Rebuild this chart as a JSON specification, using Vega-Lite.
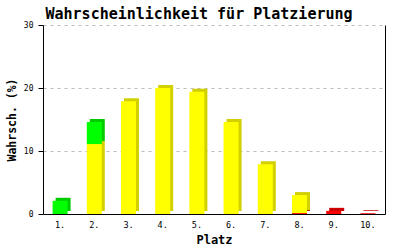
{
  "$schema": "https://vega.github.io/schema/vega-lite/v6.json",
  "width": 342,
  "height": 189,
  "autosize": "none",
  "padding": {"left": 43, "top": 25, "right": 15, "bottom": 36},
  "background": "white",
  "title": {
    "text": "Wahrscheinlichkeit für Platzierung",
    "font": "DejaVu Sans Mono",
    "fontSize": 15,
    "fontWeight": "bold",
    "color": "black",
    "anchor": "middle",
    "dx": -15,
    "offset": -1
  },
  "config": {
    "view": {"stroke": null},
    "axis": {
      "labelFont": "DejaVu Sans Mono",
      "titleFont": "DejaVu Sans Mono",
      "labelColor": "black",
      "titleColor": "black",
      "domainColor": "black",
      "tickColor": "black"
    }
  },
  "data": {
    "values": [
      {"platz": "1.", "farbe": "grün", "stufe": 3, "wert": 2.1},
      {"platz": "2.", "farbe": "gelb", "stufe": 2, "wert": 11.1},
      {"platz": "2.", "farbe": "grün", "stufe": 3, "wert": 3.5},
      {"platz": "3.", "farbe": "gelb", "stufe": 2, "wert": 17.9},
      {"platz": "4.", "farbe": "gelb", "stufe": 2, "wert": 20.0},
      {"platz": "5.", "farbe": "gelb", "stufe": 2, "wert": 19.4},
      {"platz": "6.", "farbe": "gelb", "stufe": 2, "wert": 14.6},
      {"platz": "7.", "farbe": "gelb", "stufe": 2, "wert": 7.9},
      {"platz": "8.", "farbe": "rot", "stufe": 1, "wert": 0.15},
      {"platz": "8.", "farbe": "gelb", "stufe": 2, "wert": 2.85},
      {"platz": "9.", "farbe": "rot", "stufe": 1, "wert": 0.5},
      {"platz": "10.", "farbe": "rot", "stufe": 1, "wert": 0.12}
    ]
  },
  "layer": [
    {
      "mark": {"type": "bar", "width": 15, "xOffset": 3, "yOffset": -3},
      "encoding": {
        "x": {
          "field": "platz", "type": "nominal", "sort": null,
          "axis": {
            "title": "Platz", "titleFontSize": 12, "titleFontWeight": "bold",
            "labelFontSize": 8.5, "labelAngle": 0, "ticks": false,
            "labelPadding": 6, "titlePadding": 6, "domainWidth": 1
          }
        },
        "y": {
          "field": "wert", "type": "quantitative", "stack": true,
          "scale": {"domain": [0, 30]},
          "axis": {
            "title": "Wahrsch. (%)", "titleFontSize": 11.5, "titleFontWeight": "bold",
            "values": [0, 10, 20, 30], "labelFontSize": 8, "tickSize": 5,
            "labelPadding": 5, "titlePadding": 6,
            "grid": true, "gridColor": "#bbbbbb", "gridDash": [3, 4]
          }
        },
        "order": {"field": "stufe"},
        "color": {
          "field": "farbe", "type": "nominal", "legend": null,
          "scale": {"domain": ["rot", "gelb", "grün"], "range": ["#cc0000", "#d2d000", "#00cc00"]}
        }
      }
    },
    {
      "mark": {"type": "rule", "color": "black"},
      "transform": [{"filter": "false"}],
      "encoding": {
        "y": {"field": "wert", "type": "quantitative",
          "axis": {"orient": "right", "labels": false, "ticks": false, "title": null, "grid": false, "domainColor": "black"}}
      }
    },
    {
      "mark": {"type": "bar", "width": 15},
      "encoding": {
        "x": {"field": "platz", "type": "nominal", "sort": null},
        "y": {"field": "wert", "type": "quantitative", "stack": true, "axis": null},
        "order": {"field": "stufe"},
        "color": {
          "field": "farbe", "type": "nominal", "legend": null,
          "scale": {"domain": ["rot", "gelb", "grün"], "range": ["#ff0000", "#ffff00", "#00ff00"]}
        }
      }
    }
  ],
  "resolve": {"scale": {"color": "independent"}, "axis": {"y": "independent"}}
}
